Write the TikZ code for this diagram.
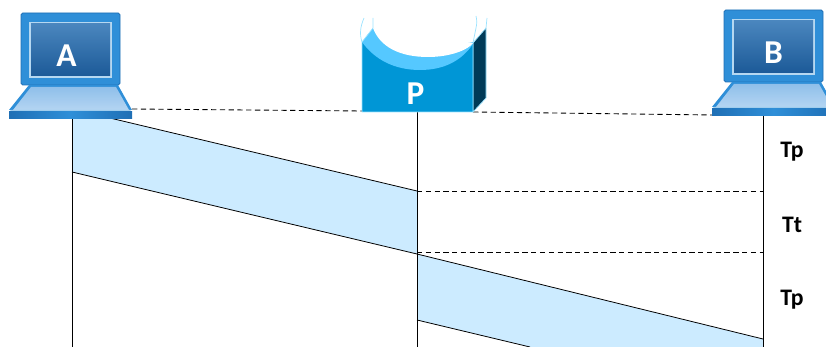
\documentclass[tikz,border=0pt]{standalone}
\usepackage{fontspec}
\setmainfont{Carlito}
\usepackage{tikz}

\definecolor{bandblue}{HTML}{CCEBFF}
\definecolor{lidblue}{HTML}{2F8FD8}
\definecolor{lidedge}{HTML}{1F6FB5}
\definecolor{screentop}{HTML}{4A86BE}
\definecolor{screenbot}{HTML}{1C5A98}
\definecolor{basetop}{HTML}{8FBFEA}
\definecolor{basebot}{HTML}{B4D5F2}
\definecolor{drumblue}{HTML}{0096D6}
\definecolor{drumlight}{HTML}{55C8FF}
\definecolor{drumedge}{HTML}{9BE3FF}
\definecolor{drumside}{HTML}{003A57}

\tikzset{
  lifeline/.style={black,line width=0.5pt},
  slantline/.style={black,line width=0.45pt},
  levelline/.style={black,line width=0.5pt,dash pattern=on 3pt off 2pt},
  hostlabel/.style={white,font=\fontsize{19}{19}\selectfont\bfseries,inner sep=0pt},
  timelabel/.style={black,font=\fontsize{13.5}{14}\selectfont\bfseries,inner sep=0pt}
}

\newcommand{\laptop}[1]{
\begin{scope}[shift={#1}]
\fill [lidblue,draw=lidedge,line width=0.5pt,rounded corners=1pt] (21,13) rectangle (120,85);
\fill [white!65!lidblue] (29,22) rectangle (112,78);
\shade [top color=screentop,bottom color=screenbot] (31,24) rectangle (110,76);
\fill [lidblue] (29,85)-- (118,85)-- (132,110)-- (9,110)-- cycle;
\shade [top color=basetop,bottom color=basebot] (31,87)-- (116,87)-- (129,110)-- (13,110)-- cycle;
\fill [white!55!lidblue] (11,110)-- (130,110)-- (132,112)-- (9,112)-- cycle;
\shade [left color=lidedge,right color=lidedge,middle color=lidblue] (9,112) rectangle (132,118.5);
\end{scope}
}

\begin{document}
\begin{tikzpicture}[line cap=butt,line join=round,x=0.02cm,y=-0.02cm]
\useasboundingbox (0,0) rectangle (826,347);
\clip (0,0) rectangle (826,347);

\coordinate (a0) at (72,118);
\coordinate (a1) at (72,347);
\coordinate (p0) at (417,112);
\coordinate (p1) at (417,347);
\coordinate (b0) at (763,116);
\coordinate (b1) at (763,347);
\coordinate (t1) at (72,109);
\coordinate (t2) at (417,191);
\coordinate (t3) at (72,172);
\coordinate (t4) at (417,254);
\coordinate (u1) at (417,254);
\coordinate (u2) at (763,339);
\coordinate (u3) at (417,320);
\coordinate (u4) at (530,347);
\coordinate (l1) at (132,109);
\coordinate (l2) at (362,111);
\coordinate (l3) at (473,112);
\coordinate (l4) at (712,115);
\coordinate (r1) at (417,191);
\coordinate (r2) at (763,191);
\coordinate (r3) at (417,252);
\coordinate (r4) at (763,252);

% bands
\fill [bandblue] (t1)-- (t2)-- (t4)-- (t3)-- cycle;
\fill [bandblue] (u1)-- (u2)-- (b1)-- (u4)-- (u3)-- cycle;
\draw [slantline] (t1)-- (t2);
\draw [slantline] (t3)-- (t4);
\draw [slantline] (u1)-- (u2);
\draw [slantline] (u3)-- (u4);

\draw [lifeline] (a0)-- (a1);
\draw [lifeline] (p0)-- (p1);
\draw [lifeline] (b0)-- (b1);

\draw [levelline] (l1)-- (l2);
\draw [levelline] (l3)-- (l4);
\draw [levelline] (r1)-- (r2);
\draw [levelline] (r3)-- (r4);

\laptop{(0,0)}
\laptop{(703,-3)}

% drum
\fill [drumside,draw=drumedge,line width=0.4pt] (473,43)-- (486,28)-- (486,98)-- (473,112)-- cycle;
\fill [drumblue,draw=drumedge,line width=0.5pt] (362,42)-- (362,112)-- (473,112)-- (473,43)-- cycle;
\fill [drumlight] (362,42) .. controls (375,60) and (395,70) .. (420,70) .. controls (445,70) and (462,60) .. (473,44)-- (473,42)-- (428,57)-- (373,28)-- cycle;
\fill [white] (373,28) .. controls (380,47) and (400,57) .. (428,57) .. controls (450,57) and (468,50) .. (473,43)-- (373,28)-- cycle;
\draw [drumedge,line width=0.4pt] (362,42) .. controls (359,33) and (361,25) .. (364,18);
\draw [drumedge,line width=0.4pt] (362,42)-- (373,28)-- (373,18);
\draw [drumedge,line width=0.4pt] (486,28)-- (487,18);
\draw [drumedge,line width=0.4pt] (473,43)-- (476,28) .. controls (477,24) and (477,20) .. (476,16);

\node [hostlabel] (nameA) at (66.5,56) {A};
\node [hostlabel] (nameB) at (773.5,53) {B};
\node [hostlabel] (nameP) at (415.5,94) {P};
\node [timelabel] (tp1) at (792,152) {Tp};
\node [timelabel] (tt) at (792,225) {Tt};
\node [timelabel] (tp2) at (792,300) {Tp};
\end{tikzpicture}
\end{document}
